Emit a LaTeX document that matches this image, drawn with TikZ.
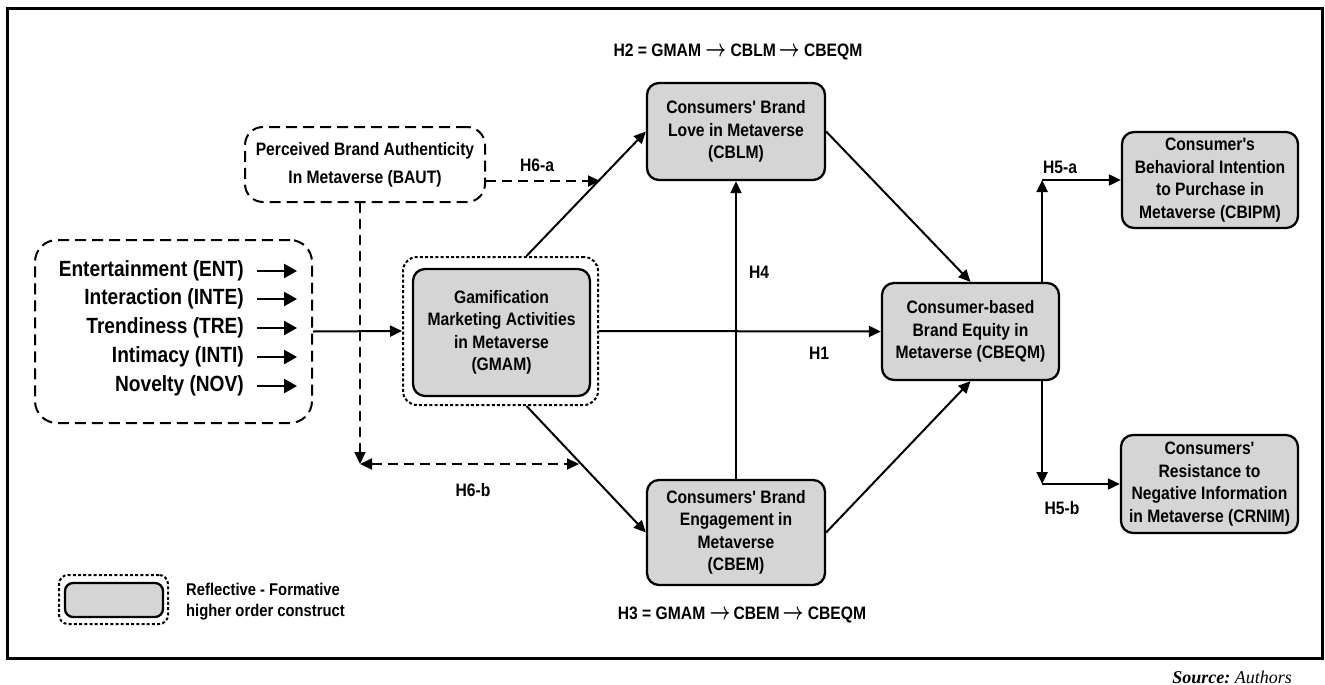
\documentclass[tikz,border=0pt]{standalone}
\usepackage{fontspec}
\usetikzlibrary{arrows.meta,calc}
\newfontfamily\nar{Liberation Sans}[FakeStretch=0.87]
\newfontfamily\srcfont{Liberation Serif}
\definecolor{boxgray}{RGB}{213,213,213}
\newcommand{\ar}{\raisebox{0.5pt}{\scalebox{1.05}[1.4]{\boldmath$\rightarrow$}}}
\tikzset{
  cbox/.style={draw, line width=2.3pt, rounded corners=12pt, fill=boxgray, align=center, inner sep=0pt,
    font=\nar\bfseries\fontsize{18pt}{22.5pt}\selectfont},
  dbox/.style={draw, line width=2pt, rounded corners=18pt, dash pattern=on 11pt off 6pt, inner sep=0pt},
  dotbox/.style={draw, line width=2pt, rounded corners=14pt, dash pattern=on 3pt off 2.2pt, inner sep=0pt},
  conn/.style={line width=2pt, -{Triangle[length=12pt,width=11pt]}},
  dconn/.style={line width=2pt, dash pattern=on 10pt off 6pt, -{Triangle[length=12pt,width=11pt]}},
  hlab/.style={font=\nar\bfseries\fontsize{18pt}{22pt}\selectfont, inner sep=0pt},
  ltext/.style={anchor=east, font=\nar\bfseries\fontsize{22pt}{27pt}\selectfont, inner sep=0pt},
  sarr/.style={line width=2.5pt, -{Triangle[length=13pt,width=14pt]}}
}
\begin{document}
\begin{tikzpicture}[x=1pt,y=-1pt]
\useasboundingbox (0,0) rectangle (1325,685);
\draw[line width=3pt] (7,9) rectangle (1322,658);

% left formative box
\node[dbox, minimum width=277pt, minimum height=183pt, rounded corners=22pt] (left) at (173.5,331.5) {};
\node[ltext] (ent) at (244,271) {Entertainment (ENT)};
\node[ltext] (inte) at (244,299) {Interaction (INTE)};
\node[ltext] (tre) at (244,328) {Trendiness (TRE)};
\node[ltext] (inti) at (244,357) {Intimacy (INTI)};
\node[ltext] (nov) at (244,386) {Novelty (NOV)};
\foreach \n in {ent,inte,tre,inti,nov}{
  \draw[sarr] ([xshift=13pt]\n.east) -- ([xshift=53pt]\n.east);
}

% BAUT
\node[dbox, minimum width=240pt, minimum height=75pt, align=center,
  font=\nar\bfseries\fontsize{18pt}{28pt}\selectfont] (baut) at (365,164.5)
  {Perceived Brand Authenticity\\In Metaverse (BAUT)};

% GMAM
\node[dotbox, minimum width=195pt, minimum height=148pt] (gmamo) at (500.5,331) {};
\node[cbox, minimum width=177pt, minimum height=127pt] (gmam) at (501.5,332.5)
  {Gamification\\Marketing Activities\\in Metaverse\\(GMAM)};

% other constructs
\node[cbox, minimum width=178pt, minimum height=97pt] (cblm) at (736,131.5)
  {Consumers' Brand\\Love in Metaverse\\(CBLM)};
\node[cbox, minimum width=178pt, minimum height=105pt] (cbem) at (736,532.5)
  {Consumers' Brand\\Engagement in\\Metaverse\\(CBEM)};
\node[cbox, minimum width=177pt, minimum height=97pt] (cbeqm) at (970.5,331.5)
  {Consumer-based\\Brand Equity in\\Metaverse (CBEQM)};
\node[cbox, minimum width=176pt, minimum height=96pt] (cbipm) at (1210,180)
  {Consumer's\\Behavioral Intention\\to Purchase in\\Metaverse (CBIPM)};
\node[cbox, minimum width=177pt, minimum height=98pt] (crnim) at (1209.5,484)
  {Consumers'\\Resistance to\\Negative Information\\in Metaverse (CRNIM)};

% main connectors
\draw[conn] (left.east) -- (gmamo.west);
\coordinate (gtop) at ($(gmamo.north)+(26,0)$);
\coordinate (gbot) at ($(gmamo.south)+(26,0)$);
\draw[conn] (gtop) -- (cblm.west);
\draw[conn] (gbot) -- (cbem.west);
\draw[conn] (gmamo.east) -- (cbeqm.west);
\draw[conn] (cbem.north) -- (cblm.south);
\draw[conn] (cblm.east) -- (cbeqm.north);
\draw[conn] (cbem.east) -- (cbeqm.south);

% H5
\coordinate (h5top) at ($(cbeqm.north east)+(-18,0)$);
\coordinate (h5bot) at ($(cbeqm.south east)+(-18,0)$);
\coordinate (h5a) at (h5top |- cbipm.west);
\coordinate (h5b) at (h5bot |- crnim.west);
\draw[conn] (h5top) -- (h5a);
\draw[conn] (h5a) -- (cbipm.west);
\draw[conn] (h5bot) -- (h5b);
\draw[conn] (h5b) -- (crnim.west);

% moderation (dashed)
\coordinate (bdown) at ($(baut.south)+(-5,0)$);
\coordinate (h6bl) at (bdown |- 0,464);
\coordinate (h6br) at (579,464);
\coordinate (h6ar) at (600,181);
\draw[dconn] (bdown) -- (h6bl);
\draw[dconn, {Triangle[length=12pt,width=11pt]}-{Triangle[length=12pt,width=11pt]}] (h6bl) -- (h6br);
\draw[dconn] (baut.east |- h6ar) -- (h6ar);

% labels
\node[hlab] (lh6a) at (537,165) {H6-a};
\node[hlab] (lh6b) at (473,490) {H6-b};
\node[hlab] (lh4) at (759,272) {H4};
\node[hlab] (lh1) at (819,353) {H1};
\node[hlab] (lh5a) at (1060,167) {H5-a};
\node[hlab] (lh5b) at (1062,508) {H5-b};
\node[hlab] (lh2) at (738,52) {H2 = GMAM \ar\ CBLM\,\ar\ CBEQM};
\node[hlab] (lh3) at (742,615) {H3 = GMAM \ar\,CBEM\,\ar\ CBEQM};

% legend
\node[dotbox, minimum width=109pt, minimum height=49pt, rounded corners=9pt] (lego) at (113.5,599.5) {};
\node[cbox, minimum width=98pt, minimum height=34pt, rounded corners=8pt] (legi) at (114,600) {};
\node[anchor=west, align=left, inner sep=0pt, font=\nar\bfseries\fontsize{17pt}{21pt}\selectfont] (legt) at (186,602)
  {Reflective - Formative\\higher order construct};

% source
\node[anchor=east, inner sep=0pt, font=\srcfont\fontsize{18pt}{22pt}\selectfont] (src) at (1292,677)
  {\bfseries\itshape Source:\ \mdseries\itshape Authors};
\end{tikzpicture}
\end{document}
